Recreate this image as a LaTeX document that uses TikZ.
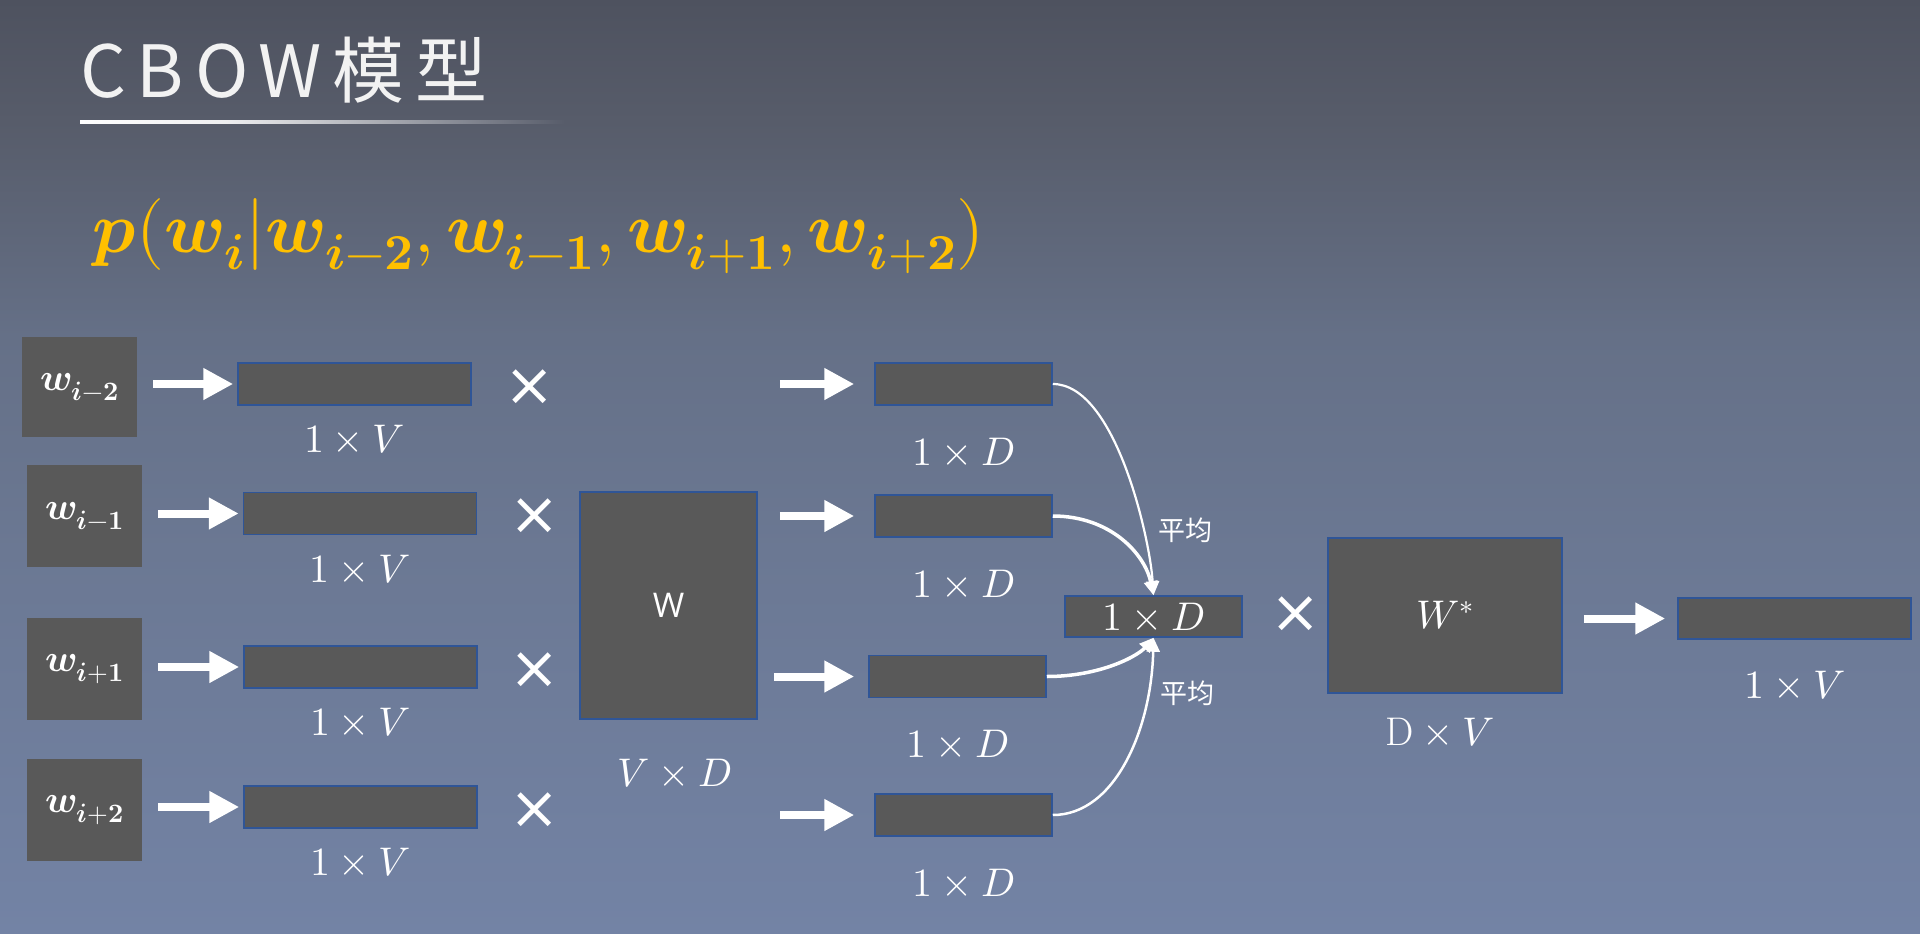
\documentclass[tikz,border=0pt]{standalone}
\usepackage{fontspec}
\usepackage{unicode-math}
\setmathfont{Latin Modern Math}
\newfontfamily\cjk{Noto Sans CJK SC}
\newfontfamily\cjkls{Noto Sans CJK SC}[LetterSpace=15]
\newfontfamily\wsans{Open Sans}
\newfontfamily\dvs{DejaVu Sans}
\newcommand{\wsubx}[2]{\symbfit{w}_{\symbfit{i}#1\symbf{#2}}}
\usetikzlibrary{arrows.meta}
\definecolor{boxgray}{HTML}{595959}
\definecolor{boxblue}{HTML}{2F5597}
\definecolor{gold}{HTML}{FFC000}
\definecolor{txtwhite}{HTML}{F2F2F2}
\definecolor{bgA}{HTML}{4E525F}
\definecolor{bgB}{HTML}{575C6A}
\definecolor{bgC}{HTML}{657087}
\definecolor{bgD}{HTML}{6B7893}
\definecolor{bgE}{HTML}{7383A5}
% TikZ maps the 25bp..75bp band of a shading onto the path
\pgfdeclareverticalshading{bgshade}{100bp}{color(0bp)=(bgE); color(25bp)=(bgE); color(45.5bp)=(bgD); color(57bp)=(bgC); color(68.5bp)=(bgB); color(75bp)=(bgA); color(100bp)=(bgA)}
\pgfdeclarehorizontalshading{ulineshade}{100bp}{color(0bp)=(white); color(25bp)=(white); color(40bp)=(white!90!bgB); color(75bp)=(bgB); color(100bp)=(bgB)}
\tikzset{
  wbox/.style={fill=boxgray, minimum width=115pt, minimum height=102pt, inner sep=0pt, text=white, font=\fontsize{38}{42}\selectfont},
  vec/.style={fill=boxgray, draw=boxblue, line width=1.5pt, minimum width=233pt, minimum height=42pt, inner sep=0pt},
  dvec/.style={vec, minimum width=177pt},
  lbl/.style={text=white, font=\fontsize{40}{44}\selectfont, inner sep=0pt},
  xmark/.style={text=white, font=\dvs\fontsize{60}{64}\selectfont, inner sep=0pt},
  blockarrow/.style={draw=white, line width=8pt, -{Triangle[length=30pt,width=30pt]}},
  avgarrow/.style={draw=white, -{Triangle[length=14pt,width=13pt]}},
  avglbl/.style={text=white, font=\cjk\fontsize{27}{29}\selectfont, inner sep=0pt},
}
\begin{document}
\begin{tikzpicture}[x=1pt,y=-1pt]
\shade[shading=bgshade] (0,0) rectangle (1920,934);
\useasboundingbox (0,0) rectangle (1920,934);

% title
\node[anchor=base west, text=txtwhite, font=\cjkls\fontsize{72}{80}\selectfont, inner sep=0pt] (title) at (80,97) {CBOW模型};
\shade[shading=ulineshade] (80,120.5) rectangle (565,123.5);

% formula
\node[anchor=base west, text=gold, font=\fontsize{72}{84}\selectfont, inner sep=0pt] (formula) at (92,252) {$\symbfit{p}(\symbfit{w}_{\symbfit{i}}|\wsubx{-}{2},\wsubx{-}{1},\wsubx{+}{1},\wsubx{+}{2})$};

% word boxes
\node[wbox, minimum height=100pt] (w1) at (79.5,387) {$\wsubx{-}{2}$};
\node[wbox] (w2) at (84.5,516) {$\wsubx{-}{1}$};
\node[wbox] (w3) at (84.5,669) {$\wsubx{+}{1}$};
\node[wbox] (w4) at (84.5,810) {$\wsubx{+}{2}$};

% one-hot vectors
\node[vec] (v1) at (354.5,384) {};
\node[vec] (v2) at (360,513.5) {};
\node[vec] (v3) at (360.5,667) {};
\node[vec] (v4) at (360.5,807) {};
\foreach \i in {1,2,3,4}{
  \node[lbl] (lv\i) at ([yshift=-34pt]v\i.south) {$1\times V$};
  \draw[blockarrow] ([xshift=16pt]w\i.east |- v\i.west) -- ([xshift=-4pt]v\i.west);
}

% multiplication marks
\node[xmark] (x1) at (530,388) {×};
\node[xmark] (x2) at (535,517) {×};
\node[xmark] (x3) at (535,671) {×};
\node[xmark] (x4) at (535,811) {×};

% W matrix
\node[fill=boxgray, draw=boxblue, line width=1.5pt, minimum width=177pt, minimum height=227pt, inner sep=0pt, text=white, font=\wsans\fontsize{34}{36}\selectfont] (W) at (668.5,605.5) {W};
\node[lbl] (lW) at (675,773) {$V\times D$};

% D vectors
\node[dvec] (d1) at (963.5,384) {};
\node[dvec] (d2) at (963.5,516) {};
\node[dvec] (d3) at (957.5,676.5) {};
\node[dvec] (d4) at (963.5,815) {};
\foreach \i in {1,2,3,4}{
  \node[lbl] (ld\i) at ([yshift=-46pt]d\i.south) {$1\times D$};
}
\draw[blockarrow] ([xshift=22pt]W.east |- d1.west) -- ([xshift=-20pt]d1.west);
\draw[blockarrow] ([xshift=22pt]W.east |- d2.west) -- ([xshift=-20pt]d2.west);
\draw[blockarrow] ([xshift=16pt]W.east |- d3.west) -- ([xshift=-14pt]d3.west);
\draw[blockarrow] ([xshift=22pt]W.east |- d4.west) -- ([xshift=-20pt]d4.west);

% average vector
\node[dvec, minimum height=41pt, text=white, font=\fontsize{40}{44}\selectfont] (avg) at (1153.5,616.5) {$1\times D$};
\draw[avgarrow, line width=2.2pt] (d1.east) .. controls +(63,0) and +(-3.5,-56) .. (avg.north);
\draw[avgarrow, line width=3.5pt] (d2.east) .. controls +(58,0) and +(-8.5,-41) .. (avg.north);
\draw[avgarrow, line width=3.5pt] (d3.east) .. controls +(54,0) and +(-15.5,18) .. (avg.south);
\draw[avgarrow, line width=2.5pt] (d4.east) .. controls +(63,0) and +(-2,90) .. (avg.south);
\node[avglbl] (avg1) at (1185,530) {平均};
\node[avglbl] (avg2) at (1187,693) {平均};

% second product
\node[xmark] (x5) at (1296,615) {×};
\node[fill=boxgray, draw=boxblue, line width=1.5pt, minimum width=234pt, minimum height=155pt, inner sep=0pt, text=white, font=\fontsize{40}{44}\selectfont] (Ws) at (1445,615.5) {$W^*$};
\node[lbl] (lWs) at (1440,732) {$\mathrm{D}\times V$};

% output
\node[vec, minimum height=41pt] (out) at (1794.5,618.5) {};
\node[lbl] (lout) at ([yshift=-46pt]out.south) {$1\times V$};
\draw[blockarrow] ([xshift=21pt]Ws.east |- out.west) -- ([xshift=-12pt]out.west);
\end{tikzpicture}
\end{document}
